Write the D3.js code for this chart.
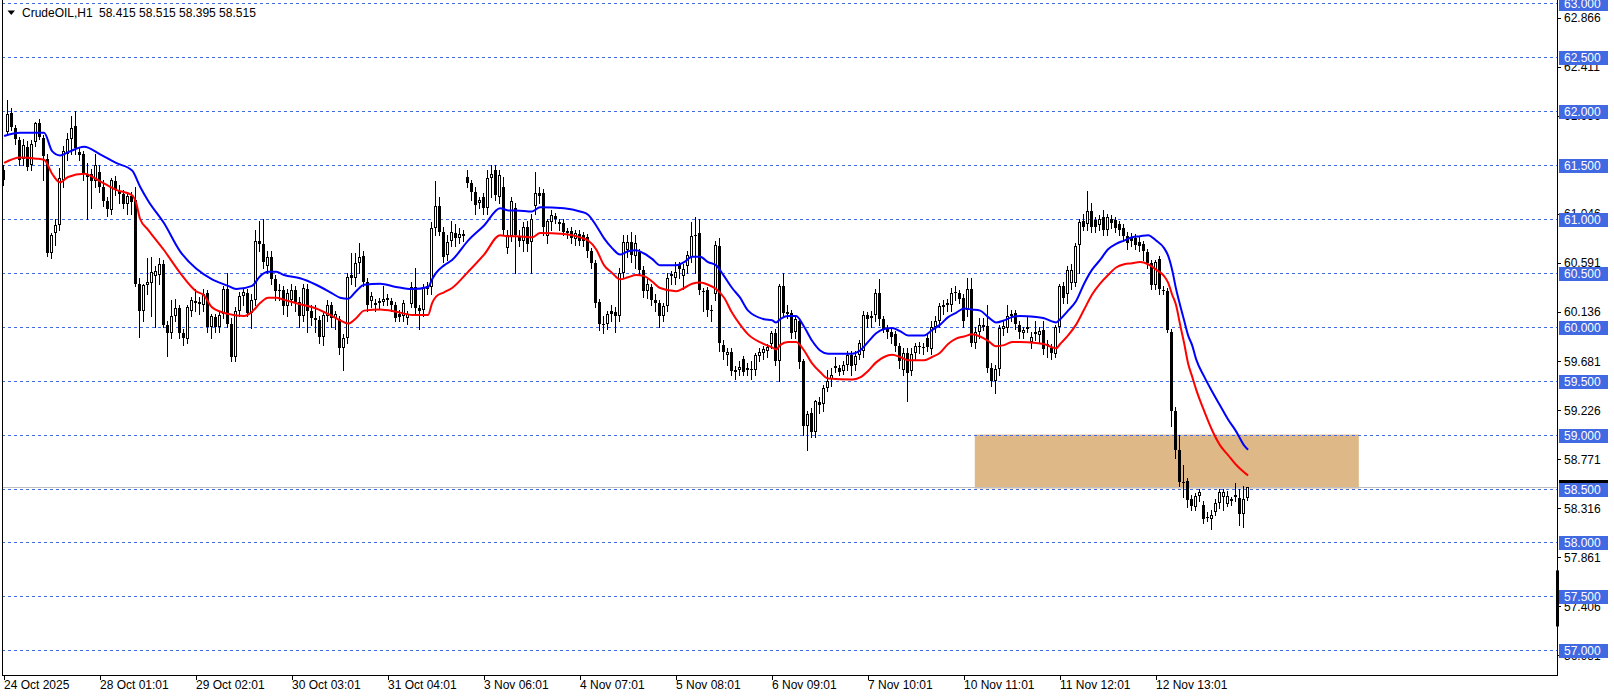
<!DOCTYPE html>
<html><head><meta charset="utf-8">
<script src="https://cdn.jsdelivr.net/npm/d3@7"></script>
<style>
html,body{margin:0;padding:0;background:#fff;overflow:hidden}
svg{display:block}
text{font-family:"Liberation Sans",Arial,sans-serif;font-size:12px}
</style>
</head><body>
<svg id="chart" width="1614" height="698"></svg>
<script>
// ---------------- DATA ----------------
const symbol = "CrudeOIL,H1";
const lastQuote = "58.415 58.515 58.395 58.515";
const timeLabels = ["24 Oct 2025","28 Oct 01:01","29 Oct 02:01","30 Oct 03:01","31 Oct 04:01","3 Nov 06:01","4 Nov 07:01","5 Nov 08:01","6 Nov 09:01","7 Nov 10:01","10 Nov 11:01","11 Nov 12:01","12 Nov 13:01"];
const timeLabelBars = [0,24,48,72,96,120,144,168,192,216,240,264,288];
const gridPrices = [63.0,62.5,62.0,61.5,61.0,60.5,60.0,59.5,59.0,58.5,58.0,57.5,57.0];
const scalePrices = [62.866,62.411,61.956,61.046,60.591,60.136,59.681,59.226,58.771,58.316,57.861,57.406,56.951];
const bidPrice = 58.515;
const axisMarker = [57.74, 57.22];
const zone = {fromBar: 242.8, toBar: 338.8, top: 59.0, bottom: 58.5};

// hourly bars: [open, high, low, close]
const ohlc = [
[61.45,61.5,61.32,61.36],[61.81,62.1,61.78,61.97],[61.98,62.03,61.83,61.85],[61.84,61.87,61.7,61.74],[61.73,61.76,61.5,61.55],
[61.56,61.74,61.5,61.69],[61.67,61.72,61.45,61.48],[61.5,61.73,61.45,61.7],[61.71,61.9,61.68,61.89],[61.89,61.93,61.74,61.76],
[61.75,61.78,61.36,61.58],[61.56,61.6,60.66,60.68],[60.68,60.87,60.64,60.85],[60.87,61.0,60.76,60.94],[60.94,61.47,60.9,61.38],
[61.36,61.68,61.3,61.63],[61.6,61.8,61.55,61.74],[61.74,61.96,61.6,61.84],[61.86,62.0,61.6,61.66],[61.62,61.66,61.55,61.59],
[61.6,61.63,61.36,61.42],[61.42,61.52,61.0,61.39],[61.42,61.46,61.1,61.35],[61.35,61.6,61.3,61.5],[61.44,61.5,61.25,61.3],
[61.3,61.36,61.12,61.17],[61.17,61.2,61.03,61.09],[61.08,61.38,61.05,61.36],[61.35,61.4,61.22,61.27],[61.26,61.32,61.15,61.23],
[61.23,61.27,61.1,61.14],[61.14,61.25,61.05,61.21],[61.21,61.25,61.05,61.16],[61.18,61.3,60.38,60.4],[60.4,60.45,59.91,60.15],
[60.15,60.4,60.05,60.39],[60.39,60.64,60.3,60.42],[60.41,60.65,60.1,60.51],[60.47,60.56,60.0,60.52],[60.48,60.64,60.4,60.58],
[60.58,60.62,60.0,60.02],[60.02,60.05,59.73,59.94],[59.94,60.25,59.9,60.1],[60.1,60.26,60.05,60.17],[60.17,60.2,59.9,59.94],
[59.94,59.98,59.83,59.9],[59.89,60.2,59.85,60.18],[60.15,60.28,60.1,60.25],[60.22,60.35,60.15,60.24],[60.21,60.28,60.12,60.23],
[60.2,60.35,60.15,60.3],[60.31,60.34,59.95,60.0],[60.0,60.12,59.9,60.1],[60.09,60.12,59.95,60.0],[60.0,60.14,59.95,60.11],
[60.12,60.38,60.08,60.35],[60.35,60.5,60.0,60.03],[60.03,60.08,59.68,59.72],[59.72,60.18,59.68,60.15],[60.15,60.32,60.1,60.29],
[60.29,60.36,60.2,60.32],[60.31,60.35,60.1,60.13],[60.13,60.3,59.99,60.25],[60.25,60.9,60.2,60.8],[60.8,60.98,60.7,60.77],
[60.77,61.0,60.55,60.6],[60.56,60.7,60.5,60.65],[60.65,60.7,60.4,60.44],[60.44,60.48,60.25,60.33],[60.34,60.4,60.25,60.33],
[60.34,60.38,60.12,60.19],[60.19,60.35,60.1,60.31],[60.25,60.4,60.2,60.34],[60.34,60.38,60.15,60.23],[60.23,60.28,60.0,60.1],
[60.1,60.4,60.05,60.36],[60.35,60.4,59.95,60.15],[60.15,60.2,60.02,60.08],[60.08,60.2,59.95,60.06],[60.06,60.1,59.85,59.91],
[59.91,60.14,59.83,60.11],[60.1,60.25,60.05,60.2],[60.2,60.23,60.0,60.08],[60.08,60.15,59.98,60.12],[60.07,60.1,59.75,59.8],
[59.8,59.93,59.6,59.9],[59.9,60.5,59.85,60.46],[60.48,60.68,60.4,60.45],[60.45,60.68,60.38,60.59],[60.59,60.78,60.5,60.65],
[60.66,60.7,60.38,60.42],[60.42,60.45,60.15,60.2],[60.24,60.32,60.18,60.29],[60.2,60.26,60.15,60.22],[60.22,60.27,60.17,60.24],
[60.23,60.38,60.2,60.26],[60.27,60.3,60.2,60.25],[60.24,60.27,60.15,60.2],[60.2,60.23,60.05,60.08],[60.12,60.16,60.05,60.09],
[60.1,60.25,60.05,60.22],[60.08,60.15,60.03,60.12],[60.21,60.42,60.18,60.37],[60.37,60.55,60.12,60.17],[60.17,60.2,59.98,60.15],
[60.16,60.4,60.1,60.37],[60.35,60.42,60.3,60.38],[60.37,60.97,60.3,60.92],[60.92,61.35,60.85,61.12],[61.12,61.2,60.85,60.88],
[60.88,60.93,60.6,60.65],[60.67,60.85,60.62,60.79],[60.8,60.98,60.75,60.88],[60.87,60.95,60.75,60.82],[60.82,60.92,60.78,60.86],
[60.86,60.9,60.8,60.84],[61.39,61.45,61.3,61.33],[61.33,61.36,61.18,61.25],[61.25,61.3,61.05,61.13],[61.15,61.2,61.1,61.18],
[61.2,61.24,61.05,61.1],[61.1,61.45,61.05,61.38],[61.38,61.5,61.2,61.42],[61.45,61.5,61.18,61.22],[61.2,61.45,61.15,61.41],
[61.3,61.39,60.85,60.9],[60.73,60.9,60.68,60.85],[60.84,61.2,60.8,61.17],[61.1,61.15,60.5,60.85],[60.84,60.9,60.75,60.8],
[60.8,60.97,60.7,60.93],[60.93,60.98,60.7,60.77],[60.79,61.05,60.5,61.0],[61.12,61.44,61.05,61.24],[61.24,61.3,61.15,61.21],
[61.24,61.28,60.85,60.93],[60.84,61.0,60.78,60.98],[60.97,61.08,60.9,61.04],[61.03,61.06,60.96,61.0],[60.95,61.0,60.9,60.97],
[60.96,61.0,60.85,60.88],[60.87,60.92,60.82,60.89],[60.89,60.93,60.78,60.82],[60.81,60.9,60.76,60.87],[60.86,60.9,60.76,60.8],
[60.85,60.88,60.75,60.8],[60.83,60.86,60.65,60.7],[60.7,60.73,60.55,60.59],[60.59,60.62,60.18,60.22],[60.23,60.26,59.97,60.03],
[60.03,60.1,59.94,60.02],[60.03,60.15,59.98,60.12],[60.15,60.2,60.05,60.12],[60.14,60.18,59.95,60.1],[60.1,60.55,60.05,60.5],
[60.5,60.85,60.45,60.79],[60.71,60.85,60.65,60.79],[60.79,60.88,60.6,60.67],[60.66,60.85,60.55,60.78],[60.69,60.72,60.48,60.53],
[60.53,60.56,60.28,60.33],[60.33,60.44,60.27,60.4],[60.37,60.4,60.2,60.25],[60.25,60.3,60.15,60.22],[60.22,60.25,60.0,60.1],
[60.1,60.22,60.05,60.19],[60.19,60.5,60.15,60.45],[60.49,60.52,60.4,60.47],[60.45,60.6,60.4,60.51],[60.57,60.6,60.45,60.54],
[60.47,60.58,60.35,60.54],[60.56,60.7,60.5,60.67],[60.65,60.97,60.6,60.84],[60.84,61.02,60.5,60.85],[60.87,61.0,60.3,60.34],
[60.33,60.36,60.15,60.32],[60.34,60.37,60.1,60.16],[60.15,60.2,60.05,60.16],[60.3,60.8,60.25,60.76],[60.75,60.82,59.78,59.85],
[59.83,59.88,59.7,59.77],[59.74,59.8,59.65,59.77],[59.77,59.8,59.55,59.59],[59.6,59.64,59.52,59.58],[59.6,59.68,59.55,59.63],
[59.7,59.73,59.55,59.58],[59.6,59.66,59.55,59.62],[59.6,59.68,59.52,59.61],[59.6,59.76,59.55,59.74],[59.73,59.8,59.68,59.77],
[59.76,59.82,59.7,59.79],[59.78,59.84,59.72,59.81],[59.84,59.96,59.8,59.94],[59.94,59.98,59.65,59.68],[59.68,60.4,59.5,60.38],
[60.38,60.5,60.1,60.13],[60.14,60.2,60.08,60.12],[60.13,60.16,59.9,59.94],[59.95,60.1,59.9,60.07],[60.05,60.08,59.62,59.67],
[59.68,59.7,59.0,59.08],[59.08,59.22,58.86,59.19],[59.2,59.25,58.98,59.02],[59.02,59.32,58.98,59.31],[59.3,59.35,59.2,59.27],
[59.28,59.46,59.22,59.43],[59.43,59.6,59.4,59.5],[59.52,59.62,59.45,59.55],[59.64,59.72,59.58,59.62],[59.62,59.65,59.55,59.58],
[59.59,59.68,59.56,59.65],[59.65,59.78,59.6,59.74],[59.74,59.78,59.55,59.64],[59.65,59.78,59.6,59.73],[59.74,59.88,59.7,59.85],
[59.78,60.15,59.72,60.11],[60.11,60.14,60.0,60.07],[60.08,60.15,60.0,60.1],[60.11,60.35,60.05,60.31],[60.31,60.44,60.02,60.07],
[60.07,60.1,59.95,59.98],[59.98,60.02,59.9,59.95],[59.95,60.0,59.85,59.91],[59.93,59.96,59.78,59.82],[59.82,59.85,59.62,59.68],
[59.6,59.8,59.55,59.76],[59.76,59.8,59.31,59.57],[59.59,59.8,59.55,59.75],[59.76,59.85,59.7,59.82],[59.82,59.86,59.76,59.81],
[59.81,59.85,59.75,59.8],[59.9,59.93,59.78,59.81],[59.79,60.05,59.75,60.0],[60.0,60.1,59.95,60.05],[60.05,60.22,60.0,60.19],
[60.18,60.25,60.12,60.2],[60.2,60.26,60.15,60.22],[60.2,60.36,60.15,60.31],[60.32,60.38,60.25,60.31],[60.31,60.34,60.22,60.26],
[60.27,60.3,60.0,60.05],[60.16,60.45,60.1,60.35],[60.35,60.45,59.82,59.85],[59.85,60.0,59.8,59.95],[59.95,60.08,59.9,60.02],
[60.02,60.08,59.97,60.0],[60.01,60.2,59.58,59.62],[59.62,59.66,59.45,59.5],[59.5,59.65,59.39,59.61],[59.61,60.02,59.55,59.99],
[59.98,60.05,59.92,60.01],[59.99,60.2,59.95,60.1],[60.1,60.16,60.05,60.12],[60.13,60.16,59.98,60.03],[60.02,60.05,59.9,59.95],
[59.94,60.0,59.9,59.97],[60.0,60.1,59.95,59.98],[59.86,59.95,59.8,59.91],[59.93,60.05,59.88,59.95],[59.92,60.0,59.85,59.96],
[59.97,60.05,59.75,59.79],[59.84,59.88,59.72,59.82],[59.8,59.84,59.7,59.76],[59.75,60.02,59.72,60.0],[60.0,60.4,59.95,60.38],
[60.38,60.42,60.22,60.27],[60.3,60.56,60.22,60.53],[60.41,60.58,60.35,60.53],[60.41,60.78,60.38,60.75],[60.76,61.0,60.5,60.97],
[60.98,61.05,60.9,60.93],[60.95,61.26,60.9,61.07],[61.07,61.15,60.88,60.93],[60.99,61.02,60.88,60.93],[60.94,61.04,60.9,61.0],
[61.02,61.08,60.85,60.9],[60.9,61.05,60.85,61.02],[61.0,61.04,60.92,60.96],[60.99,61.02,60.88,60.92],[60.95,60.98,60.85,60.9],
[60.92,60.95,60.8,60.84],[60.84,60.88,60.72,60.78],[60.82,60.87,60.75,60.8],[60.82,60.86,60.72,60.76],[60.79,60.83,60.7,60.75],
[60.77,60.8,60.62,60.7],[60.69,60.72,60.55,60.59],[60.59,60.62,60.35,60.39],[60.39,60.62,60.35,60.6],[60.63,60.66,60.3,60.35],
[60.34,60.38,60.3,60.33],[60.33,60.36,59.95,59.97],[59.95,59.98,59.08,59.22],[59.22,59.26,58.78,58.86],[58.86,59.0,58.52,58.56],
[58.56,58.72,58.42,58.55],[58.57,58.6,58.33,58.39],[58.4,58.44,58.3,58.34],[58.33,58.46,58.3,58.43],[58.43,58.5,58.38,58.47],
[58.35,58.38,58.18,58.22],[58.24,58.28,58.2,58.23],[58.22,58.3,58.12,58.25],[58.28,58.4,58.25,58.37],[58.37,58.5,58.32,58.47],
[58.42,58.5,58.3,58.47],[58.36,58.48,58.34,58.43],[58.4,58.42,58.35,58.38],[58.44,58.55,58.38,58.42],[58.41,58.5,58.16,58.26],
[58.26,58.52,58.14,58.4],[58.415,58.515,58.395,58.515]
];

// moving average of highs (blue) sampled at [bar, value]
const maHigh = [[0,61.77],[4,61.8],[8,61.8],[10,61.8],[12,61.63],[14,61.59],[16,61.62],[20,61.67],[24,61.6],[28,61.52],[32,61.45],[34,61.3],[36,61.17],[40,60.96],[44,60.7],[48,60.54],[52,60.44],[56,60.38],[58,60.35],[62,60.38],[64,60.47],[66,60.51],[68,60.51],[70,60.48],[74,60.45],[78,60.39],[82,60.31],[84,60.27],[86,60.26],[88,60.33],[90,60.39],[94,60.4],[98,60.37],[102,60.35],[106,60.37],[107,60.44],[108,60.5],[110,60.57],[112,60.62],[116,60.8],[120,60.94],[124,61.1],[126,61.08],[128,61.08],[132,61.07],[134,61.11],[140,61.1],[144,61.07],[146,61.04],[148,60.94],[150,60.82],[152,60.73],[154,60.67],[156,60.7],[158,60.71],[160,60.68],[162,60.63],[164,60.57],[168,60.57],[170,60.6],[172,60.65],[174,60.65],[176,60.6],[178,60.57],[180,60.47],[182,60.36],[184,60.27],[186,60.15],[190,60.07],[192,60.06],[193,60.04],[194,60.07],[196,60.1],[198,60.1],[200,60.0],[202,59.87],[204,59.78],[206,59.75],[212,59.75],[214,59.78],[216,59.86],[218,59.94],[220,59.98],[222,59.99],[224,59.96],[226,59.92],[230,59.92],[232,59.97],[234,60.02],[236,60.09],[238,60.13],[240,60.17],[242,60.16],[244,60.15],[246,60.09],[248,60.04],[250,60.06],[252,60.09],[254,60.1],[258,60.09],[260,60.08],[262,60.05],[263,60.04],[264,60.07],[266,60.15],[268,60.24],[270,60.4],[272,60.53],[274,60.62],[276,60.72],[278,60.77],[280,60.8],[282,60.83],[284,60.84],[286,60.85],[288,60.8],[290,60.73],[291,60.66],[292,60.53],[293,60.35],[294,60.2],[295,60.06],[296,59.92],[297,59.83],[298,59.7],[300,59.54],[302,59.4],[304,59.27],[306,59.14],[308,59.03],[310,58.9],[311,58.86]];
// moving average of lows (red)
const maLow = [[0,61.52],[4,61.57],[8,61.56],[10,61.55],[12,61.42],[14,61.34],[16,61.39],[20,61.42],[24,61.35],[28,61.27],[32,61.22],[33,61.15],[34,61.0],[36,60.9],[40,60.71],[44,60.5],[48,60.33],[50,60.29],[52,60.18],[56,60.12],[60,60.1],[62,60.14],[64,60.22],[66,60.27],[68,60.27],[70,60.25],[74,60.21],[78,60.17],[82,60.1],[84,60.06],[86,60.03],[88,60.08],[90,60.15],[94,60.16],[98,60.14],[102,60.11],[106,60.11],[107,60.22],[108,60.28],[110,60.32],[112,60.36],[116,60.51],[120,60.67],[124,60.85],[126,60.84],[128,60.84],[132,60.83],[134,60.87],[140,60.86],[144,60.83],[146,60.8],[148,60.72],[150,60.57],[152,60.5],[154,60.44],[156,60.46],[158,60.48],[160,60.47],[162,60.42],[164,60.36],[168,60.33],[170,60.36],[172,60.4],[174,60.41],[176,60.39],[178,60.35],[180,60.27],[182,60.13],[184,60.02],[186,59.93],[190,59.84],[192,59.81],[193,59.79],[194,59.83],[196,59.86],[198,59.86],[200,59.78],[202,59.66],[204,59.58],[206,59.52],[212,59.51],[214,59.53],[216,59.59],[218,59.67],[220,59.72],[222,59.74],[224,59.72],[226,59.69],[230,59.69],[232,59.72],[234,59.76],[236,59.84],[238,59.89],[240,59.91],[242,59.93],[244,59.91],[246,59.87],[248,59.82],[250,59.83],[252,59.86],[254,59.86],[258,59.85],[260,59.84],[262,59.81],[263,59.8],[264,59.84],[266,59.92],[268,60.02],[270,60.16],[272,60.3],[274,60.4],[276,60.48],[278,60.55],[280,60.58],[282,60.59],[284,60.6],[286,60.58],[288,60.53],[290,60.47],[291,60.41],[292,60.3],[293,60.2],[294,60.02],[295,59.85],[296,59.66],[297,59.54],[298,59.42],[300,59.22],[302,59.04],[304,58.9],[306,58.81],[308,58.72],[310,58.65],[311,58.62]];

// ---------------- DRAW ----------------
const W = 1614, H = 698;
const plot = {left: 2, right: 1557, top: 0, bottom: 675};
const gridBlue = "#4169E1";

const x = d3.scaleLinear().domain([0, 388.35]).range([3.6, plot.right]);
const y = d3.scaleLinear().domain([57.0, 62.5]).range([650.2, 57.3]);

const svg = d3.select("#chart");
svg.append("rect").attr("width", W).attr("height", H).attr("fill", "#fff");

svg.append("defs").append("clipPath").attr("id", "plotClip")
  .append("rect").attr("x", plot.left).attr("y", plot.top)
  .attr("width", plot.right - plot.left).attr("height", plot.bottom - plot.top);

const g = svg.append("g").attr("clip-path", "url(#plotClip)");

// zone rectangle
g.append("rect")
  .attr("x", x(zone.fromBar)).attr("y", y(zone.top))
  .attr("width", x(zone.toBar) - x(zone.fromBar))
  .attr("height", y(zone.bottom) - y(zone.top))
  .attr("fill", "#DEB887");

// grid lines
g.selectAll("line.grid").data(gridPrices).join("line")
  .attr("class", "grid")
  .attr("x1", plot.left).attr("x2", plot.right)
  .attr("y1", d => Math.round(y(d)) + 0.5).attr("y2", d => Math.round(y(d)) + 0.5)
  .attr("stroke", gridBlue).attr("stroke-width", 1).attr("stroke-dasharray", "3,3");

// bid line
g.append("line")
  .attr("x1", plot.left).attr("x2", plot.right)
  .attr("y1", Math.round(y(bidPrice)) + 0.5).attr("y2", Math.round(y(bidPrice)) + 0.5)
  .attr("stroke", "#c0c0c0").attr("stroke-width", 1);

// candles
const px = i => Math.floor(x(i));
const candles = g.append("g");
ohlc.forEach((d, i) => {
  const [o, h, l, c] = d;
  const cx = px(i);
  candles.append("line")
    .attr("x1", cx + 0.5).attr("x2", cx + 0.5)
    .attr("y1", Math.round(y(h))).attr("y2", Math.round(y(l)) + 1)
    .attr("stroke", "#000").attr("stroke-width", 1);
  const yTop = Math.round(y(Math.max(o, c)));
  const yBot = Math.round(y(Math.min(o, c)));
  const hgt = Math.max(1, yBot - yTop);
  if (c >= o) {
    candles.append("rect")
      .attr("x", cx - 0.5).attr("y", yTop + 0.5)
      .attr("width", 2).attr("height", Math.max(0.01, hgt - 1))
      .attr("fill", "#fff").attr("stroke", "#000").attr("stroke-width", 1);
  } else {
    candles.append("rect")
      .attr("x", cx - 1).attr("y", yTop)
      .attr("width", 3).attr("height", hgt)
      .attr("fill", "#000");
  }
});

// moving averages
const maLine = d3.line().x(d => x(d[0]) + 0.5).y(d => y(d[1])).curve(d3.curveMonotoneX);
g.append("path").datum(maLow).attr("d", maLine)
  .attr("fill", "none").attr("stroke", "#FF0000").attr("stroke-width", 2);
g.append("path").datum(maHigh).attr("d", maLine)
  .attr("fill", "none").attr("stroke", "#0000FF").attr("stroke-width", 2);

// frame: left, bottom, right
svg.append("line").attr("x1", plot.left + 0.5).attr("x2", plot.left + 0.5)
  .attr("y1", 0).attr("y2", plot.bottom + 0.5).attr("stroke", "#000");
svg.append("line").attr("x1", plot.left).attr("x2", plot.right + 1)
  .attr("y1", plot.bottom + 0.5).attr("y2", plot.bottom + 0.5).attr("stroke", "#000");
svg.append("line").attr("x1", plot.right + 0.5).attr("x2", plot.right + 0.5)
  .attr("y1", 0).attr("y2", plot.bottom + 1).attr("stroke", "#000");

// right price scale
const axisG = svg.append("g");
const sp = axisG.selectAll("g.sp").data(scalePrices).join("g").attr("class", "sp");
sp.append("line")
  .attr("x1", plot.right).attr("x2", plot.right + 4)
  .attr("y1", d => Math.round(y(d)) + 0.5).attr("y2", d => Math.round(y(d)) + 0.5)
  .attr("stroke", "#000");
sp.append("text")
  .attr("x", plot.right + 7).attr("y", d => y(d)).attr("dy", "0.36em")
  .attr("fill", "#000").text(d => d.toFixed(3));

// bid label (black) under grid label
axisG.append("rect")
  .attr("x", plot.right + 2).attr("y", Math.round(y(bidPrice)) - 7)
  .attr("width", 49).attr("height", 14).attr("fill", "#000");
axisG.append("rect")
  .attr("x", plot.right - 1).attr("y", y(axisMarker[0]))
  .attr("width", 3).attr("height", y(axisMarker[1]) - y(axisMarker[0]))
  .attr("fill", "#000");

const gl = axisG.selectAll("g.gl").data(gridPrices).join("g").attr("class", "gl");
gl.append("rect")
  .attr("x", plot.right + 2).attr("y", d => Math.round(y(d)) - 6)
  .attr("width", 49).attr("height", 14).attr("fill", gridBlue);
gl.append("text")
  .attr("x", plot.right + 7).attr("y", d => Math.round(y(d)) + 1).attr("dy", "0.36em")
  .attr("fill", "#fff").text(d => d.toFixed(3));

// time axis
const tg = svg.append("g");
timeLabels.forEach((t, k) => {
  const tx = Math.round(x(timeLabelBars[k])) + 0.5;
  tg.append("line").attr("x1", tx).attr("x2", tx)
    .attr("y1", plot.bottom).attr("y2", plot.bottom + 5).attr("stroke", "#000");
  tg.append("text").attr("x", tx - 0.5).attr("y", 689).attr("fill", "#000").text(t);
});

// title
svg.append("path").attr("d", "M7.5,10.5 L15,10.5 L11.25,15 Z").attr("fill", "#000");
svg.append("text").attr("x", 22).attr("y", 17).attr("fill", "#000").text(symbol);
svg.append("text").attr("x", 99).attr("y", 17).attr("fill", "#000").text(lastQuote);
</script>
</body></html>
